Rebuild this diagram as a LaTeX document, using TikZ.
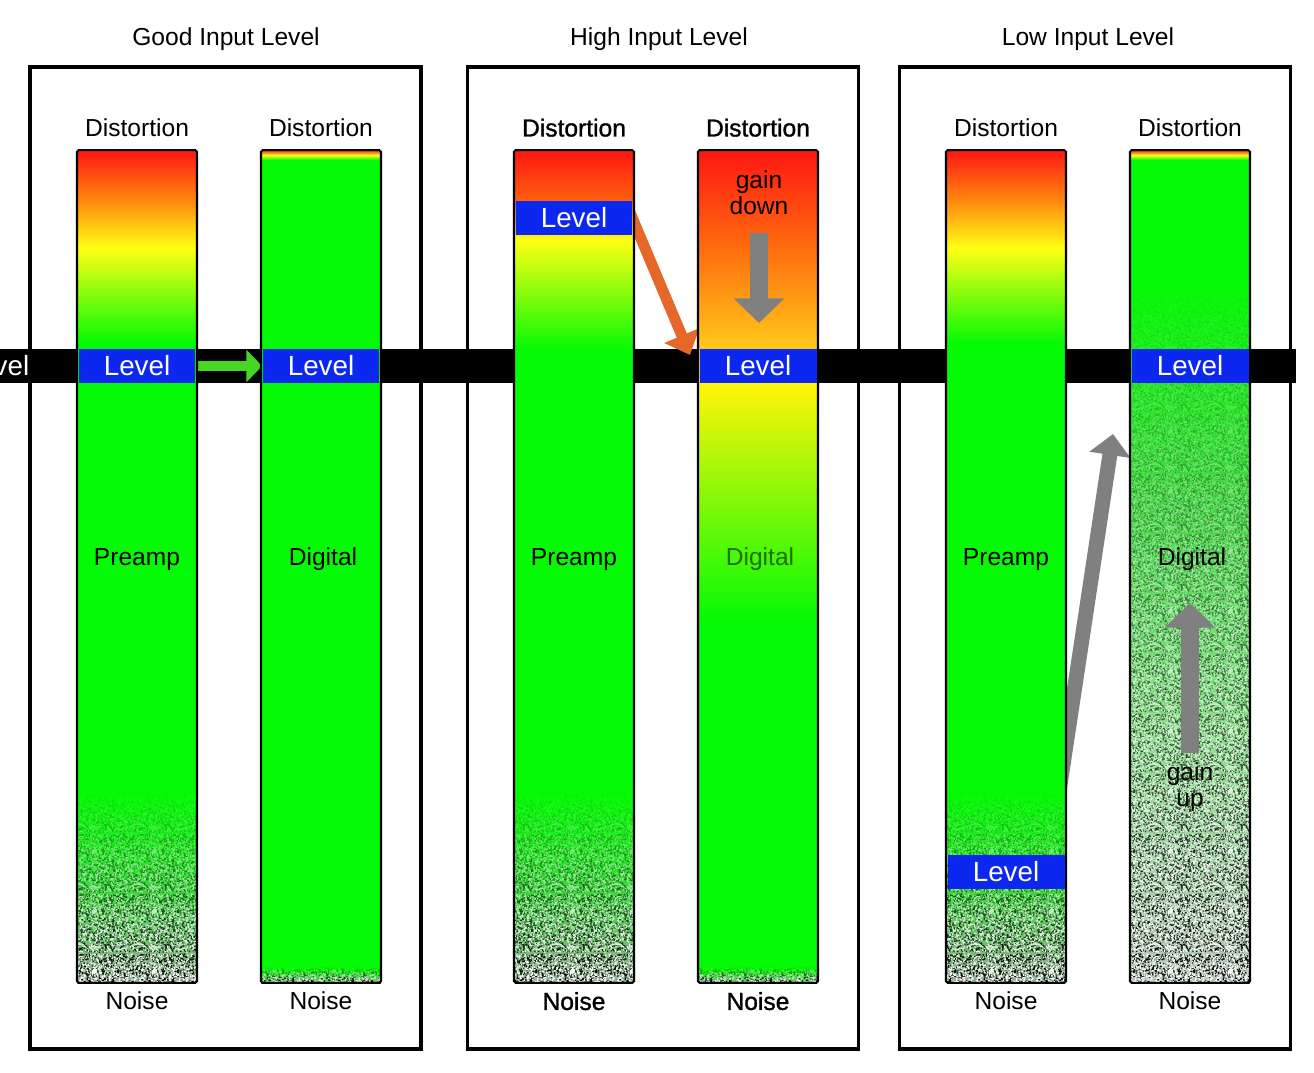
\documentclass[tikz,border=0pt]{standalone}
\usepackage{fontspec}
\setmainfont{Liberation Sans}
\newfontfamily\heavyfont[FakeBold=1.2]{Liberation Sans}
\usetikzlibrary{arrows.meta,positioning,patterns,fadings}

\definecolor{barred}{RGB}{255,22,18}
\definecolor{barorange}{RGB}{255,135,15}
\definecolor{hotorange}{RGB}{255,95,15}
\definecolor{baryellow}{RGB}{255,255,20}
\definecolor{bargreen}{RGB}{5,250,5}
\definecolor{noisebase}{RGB}{150,175,150}
\definecolor{noisemid}{RGB}{60,215,60}
\definecolor{lvblue}{RGB}{12,40,240}
\definecolor{okgreen}{RGB}{70,215,35}
\definecolor{downorange}{RGB}{229,104,42}
\definecolor{gaingray}{RGB}{128,128,128}

\pgfdeclarelayer{back}
\pgfsetlayers{back,main}

% 25bp = bottom of the bar, 75bp = top of the bar
\pgfdeclareverticalshading{preamp}{100bp}{color(0bp)=(noisebase); color(25bp)=(noisebase);
  color(30.4bp)=(noisemid); color(36.1bp)=(bargreen); color(63.42bp)=(bargreen);
  color(69.12bp)=(baryellow); color(72bp)=(barorange); color(75bp)=(barred); color(100bp)=(barred)}
\pgfdeclareverticalshading{preamphot}{100bp}{color(0bp)=(noisebase); color(25bp)=(noisebase);
  color(30.4bp)=(noisemid); color(36.1bp)=(bargreen); color(63bp)=(bargreen);
  color(69.6bp)=(baryellow); color(72bp)=(hotorange); color(75bp)=(barred); color(100bp)=(barred)}
\pgfdeclareverticalshading{digital}{100bp}{color(0bp)=(noisebase); color(25bp)=(noisebase);
  color(25.72bp)=(bargreen); color(74.4bp)=(bargreen); color(74.7bp)=(baryellow);
  color(75bp)=(barred); color(100bp)=(barred)}
\pgfdeclareverticalshading{digitalhot}{100bp}{color(0bp)=(noisebase); color(25bp)=(noisebase);
  color(25.72bp)=(bargreen); color(46.79bp)=(bargreen); color(60.89bp)=(rgb,255:red,255;green,245;blue,10);
  color(63.18bp)=(rgb,255:red,255;green,200;blue,25); color(69bp)=(rgb,255:red,255;green,110;blue,15);
  color(75bp)=(barred); color(100bp)=(barred)}
\pgfdeclareverticalshading{digitallow}{100bp}{color(0bp)=(rgb,255:red,185;green,200;blue,185);
  color(25bp)=(rgb,255:red,185;green,200;blue,185); color(40bp)=(rgb,255:red,140;green,225;blue,140);
  color(53.8bp)=(rgb,255:red,70;green,215;blue,70); color(67bp)=(bargreen); color(74.4bp)=(bargreen);
  color(74.7bp)=(baryellow); color(75bp)=(barred); color(100bp)=(barred)}

% grain tile: random black and white specks
\newcount\grainct
\pgfdeclarepatterninherentlycolored{grain}{\pgfpointorigin}{\pgfqpoint{34pt}{34pt}}{\pgfqpoint{34pt}{34pt}}{%
  \pgfmathsetseed{5}%
  \pgfsetfillcolor{black}%
  \grainct=0
  \loop\pgfpathrectangle{\pgfpoint{rnd*33.3pt}{rnd*33.3pt}}{\pgfqpoint{0.75pt}{0.75pt}}%
    \advance\grainct by 1 \ifnum\grainct<900 \repeat
  \pgfusepath{fill}%
  \pgfsetfillcolor{white}%
  \grainct=0
  \loop\pgfpathrectangle{\pgfpoint{rnd*33.3pt}{rnd*33.3pt}}{\pgfqpoint{0.75pt}{0.75pt}}%
    \advance\grainct by 1 \ifnum\grainct<700 \repeat
  \pgfusepath{fill}}

\tikzfading[name=grainfade, top color=transparent!100, middle color=transparent!78, bottom color=transparent!0]
\tikzfading[name=lowfade, top color=transparent!100, middle color=transparent!50, bottom color=transparent!5]

\begin{document}
\begin{tikzpicture}[x=0.02cm,y=-0.02cm]
  \tikzstyle{panel} = [draw=black, line width=2pt, minimum width=7.83cm, minimum height=19.64cm, inner sep=0]
  \tikzstyle{bar} = [shade, rounded corners=1pt, minimum width=2.4cm, minimum height=16.66cm, inner sep=0, outer sep=0]
  \tikzstyle{barline} = [draw=black, line width=1.2pt, rounded corners=1pt]
  \tikzstyle{noise} = [pattern=grain, path fading=grainfade]
  \tikzstyle{levelbox} = [fill=lvblue, text=white, minimum width=2.34cm, minimum height=0.68cm, inner sep=0, font=\fontsize{15.8}{18}\selectfont]
  \tikzstyle{txt} = [inner sep=0, font=\fontsize{14}{14.7}\selectfont]
  \tikzstyle{heavytxt} = [inner sep=0, font=\fontsize{14}{14.7}\selectfont\heavyfont]
  \tikzstyle{fat} = [gaingray, line width=10pt, -{Triangle[length=14pt,width=28pt]}]

  \useasboundingbox (0,0) rectangle (1314,1072);

  \node (good) [panel] at (225.5,558) {};
  \node (high) [panel] at (663,558) {};
  \node (low) [panel] at (1095,558) {};
  \node (tGood) [txt, anchor=base] at (226,45) {Good Input Level};
  \node (tHigh) [txt, anchor=base] at (659,45) {High Input Level};
  \node (tLow) [txt, anchor=base] at (1088,45) {Low Input Level};

  \node (preG) [bar, shading=preamp] at (137,566.5) {};
  \node (digG) [bar, shading=digital, right=1.28cm of preG] {};
  \node (preH) [bar, shading=preamphot] at (574,566.5) {};
  \node (digH) [bar, shading=digitalhot, right=1.28cm of preH] {};
  \node (preL) [bar, shading=preamp] at (1006,566.5) {};
  \node (digL) [bar, shading=digitallow, right=1.28cm of preL] {};

  % noise
  \fill[noise] (77,790) rectangle (197,983);
  \fill[noise] (514,790) rectangle (634,983);
  \fill[noise] (946,790) rectangle (1066,983);
  \fill[noise] (261,966) rectangle (381,983);
  \fill[noise] (698,966) rectangle (818,983);
  \fill[pattern=grain, path fading=lowfade] (1130,283) rectangle (1250,983);

  \foreach \b in {preG,digG,preH,digH,preL,digL}
    \draw[barline] (\b.north west) rectangle (\b.south east);

  \node (lvG1) [levelbox] at (137,366) {Level};
  \node (lvG2) [levelbox] at (321,366) {Level};
  \node (lvH1) [levelbox] at (574,217.5) {Level};
  \node (lvH2) [levelbox] at (758,366) {Level};
  \node (lvL1) [levelbox] at (1006,871.5) {Level};
  \node (lvL2) [levelbox] at (1190,366) {Level};
  \node (lvEdge) [txt, text=white, font=\fontsize{15.8}{18}\selectfont] at (-4,366) {Level};

  \node (dsG1) [txt, above=7.4pt of preG] {Distortion};
  \node (dsG2) [txt, above=7.4pt of digG] {Distortion};
  \node (dsH1) [heavytxt, above=7.4pt of preH] {Distortion};
  \node (dsH2) [heavytxt, above=7.4pt of digH] {Distortion};
  \node (dsL1) [txt, above=7.4pt of preL] {Distortion};
  \node (dsL2) [txt, above=7.4pt of digL] {Distortion};
  \node (nsG1) [txt, below=5pt of preG] {Noise};
  \node (nsG2) [txt, below=5pt of digG] {Noise};
  \node (nsH1) [heavytxt, below=5pt of preH] {Noise};
  \node (nsH2) [heavytxt, below=5pt of digH] {Noise};
  \node (nsL1) [txt, below=5pt of preL] {Noise};
  \node (nsL2) [txt, below=5pt of digL] {Noise};

  \node (nmG1) [txt, anchor=base] at (137,565) {Preamp};
  \node (nmG2) [txt, anchor=base] at (323,565) {Digital};
  \node (nmH1) [txt, anchor=base] at (574,565) {Preamp};
  \node (nmH2) [txt, anchor=base, text=black, text opacity=.55] at (760,565) {Digital};
  \node (nmL1) [txt, anchor=base] at (1006,565) {Preamp};
  \node (nmL2) [txt, anchor=base] at (1192,565) {Digital};

  \node (gnH) [txt, align=center] at (759,193) {gain\\down};
  \node (gnL) [txt, align=center] at (1190,787) {gain\\up};
  \coordinate (dnFrom) at (759,233);
  \coordinate (dnTo) at (759,323);
  \coordinate (upFrom) at (1190,753);
  \coordinate (upTo) at (1190,603);
  \draw[fat] (dnFrom) -- (dnTo);
  \draw[fat] (upFrom) -- (upTo);

  \begin{pgfonlayer}{back}
    \fill[black] (0,349) rectangle (1296,383);
    \coordinate (hotFrom) at (626,203);
    \coordinate (hotTo) at (690,355);
    \coordinate (riseFrom) at (1050,851);
    \coordinate (riseTo) at (1113,434);
    \draw[okgreen, line width=6.2pt, -{Triangle[length=9pt,width=18pt]}] (lvG1.east) -- (lvG2.west);
    \draw[downorange, line width=6.2pt, -{Triangle[length=12pt,width=21pt]}] (hotFrom) -- (hotTo);
    \draw[gaingray, line width=8.5pt, -{Triangle[length=12pt,width=23pt]}] (riseFrom) -- (riseTo);
  \end{pgfonlayer}
\end{tikzpicture}
\end{document}
